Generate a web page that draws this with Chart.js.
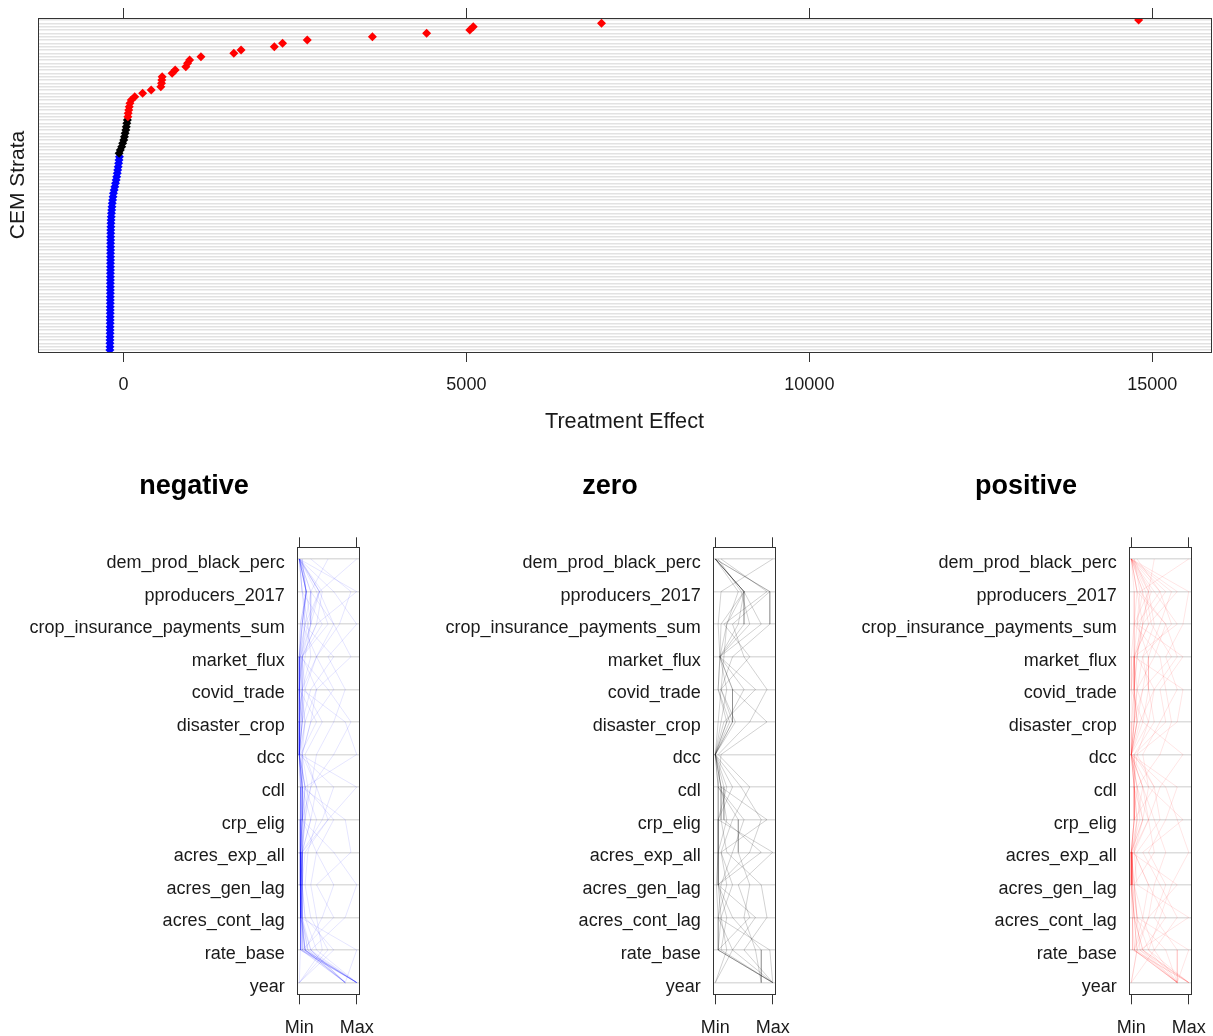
<!DOCTYPE html>
<html><head><meta charset="utf-8">
<script src="https://cdn.jsdelivr.net/npm/chart.js@4.4.1/dist/chart.umd.min.js"></script>
<style>
html,body{margin:0;padding:0;background:#fff;overflow:hidden;width:1213px;height:1036px;}
canvas{position:absolute;display:block;}
</style></head><body>
<canvas id="topChart" width="1213" height="440" style="left:0px;top:0px"></canvas>
<canvas id="panel0" width="352" height="596" style="left:29px;top:440px"></canvas>
<canvas id="panel1" width="352" height="596" style="left:445px;top:440px"></canvas>
<canvas id="panel2" width="352" height="596" style="left:861px;top:440px"></canvas>
<script>
// ---------- data ----------
const positiveEffects = [14800, 6970, 5100, 5050, 4420, 3630, 2680, 2320, 2200, 1715, 1610, 1130, 965, 935, 910, 755, 710, 565, 560, 555, 545, 405, 280, 165, 115, 95, 85, 78, 70, 65];
const zeroEffects = [58, 50, 42, 35, 25, 15, 5, -10, -25, -45, -62];
const negativeEffects = [-58, -64, -70, -76, -83, -90, -98, -106, -115, -125, -135, -145, -152, -158, -163, -167, -171, -174, -177, -180,
  -182, -183, -184, -184, -185, -185, -186, -186, -186, -187, -187, -187, -188, -188, -188, -189, -189, -189, -190, -190, -190, -190,
  -191, -191, -191, -192, -192, -192, -193, -193, -193, -194, -194, -194, -195, -195, -196, -196, -197];
const effectTicks = [0, 5000, 10000, 15000];

const variables = ["dem_prod_black_perc", "pproducers_2017", "crop_insurance_payments_sum", "market_flux", "covid_trade", "disaster_crop", "dcc", "cdl", "crp_elig", "acres_exp_all", "acres_gen_lag", "acres_cont_lag", "rate_base", "year"];
const profileTicks = [0, 1];
const profileTickLabels = ["Min", "Max"];
const panelTitles = ["negative", "zero", "positive"];

const negativeProfiles = [
  [0, 0.12, 0.05, 0, 0, 0, 0, 0.03, 0.02, 0.02, 0.02, 0.03, 0.1, 1],
  [0, 0.35, 0.1, 0.02, 0, 0.05, 0, 0.05, 0.04, 0.03, 0.03, 0.04, 0.15, 0.8],
  [0.02, 0.12, 0.2, 0.1, 0.05, 0.1, 0.02, 0.1, 0.08, 0.05, 0.04, 0.05, 0.2, 1],
  [0, 1, 0.3, 0.05, 0, 0.02, 0, 0.02, 0.05, 0.02, 0.02, 0.02, 0.05, 0.8],
  [0, 0.12, 0.02, 0, 0, 0, 0, 0.02, 0.01, 0.01, 0.01, 0.02, 0.02, 0],
  [0.5, 0.2, 0.6, 0.3, 0.1, 0.4, 0.1, 0.3, 0.5, 0.1, 0.05, 0.1, 0.3, 1],
  [0, 0.35, 0.15, 0.2, 0.05, 0.05, 0, 0.05, 0.2, 0.05, 0.03, 0.03, 0.1, 0.8],
  [0, 0.05, 0.4, 0.05, 0.3, 0.2, 0.05, 0.15, 0.1, 0.02, 0.02, 0.02, 0.02, 1],
  [0.05, 0.12, 0.08, 0.6, 0.2, 0.05, 0, 0.1, 0.3, 0.15, 0.1, 0.2, 0.5, 0],
  [0, 0.6, 1, 0.5, 0.8, 0.6, 0.3, 0.2, 0.1, 0.05, 0.05, 0.05, 0.15, 1],
  [0, 0.12, 0.05, 0, 0, 0.02, 0, 0.6, 0.4, 0.05, 0.03, 0.05, 0.1, 0.8],
  [1, 0.35, 0.2, 0.05, 0, 0, 0, 0.05, 0.05, 0.3, 0.6, 0.4, 0.1, 1],
  [0, 0.12, 0.05, 0.02, 0.5, 0.9, 0.6, 0.2, 0.05, 0.02, 0.02, 0.02, 0.2, 0.8],
  [0, 0.2, 0.1, 0, 0, 0, 0, 0.05, 0.8, 0.9, 0.3, 0.6, 0.05, 1],
  [0.02, 0.35, 0.6, 0.9, 0.3, 0.1, 0.05, 0.05, 0.1, 0.05, 0.05, 0.1, 0.6, 0],
  [0, 0.12, 0.02, 0, 0.05, 0, 0, 0.02, 0.02, 0.02, 0.02, 0.02, 0.03, 0.8],
  [0, 0.05, 0.15, 0.02, 0, 0.3, 0.02, 1, 0.5, 0.05, 0.04, 0.05, 0.1, 1],
  [0, 0.4, 0.3, 0.05, 0.02, 0.1, 0, 0.05, 0.05, 0.6, 1, 0.8, 0.2, 0.8],
  [0.2, 0.9, 0.7, 0.3, 0.6, 0.2, 0.05, 0.3, 0.2, 0.05, 0.05, 0.05, 0.05, 1],
  [0, 0.12, 0.05, 0, 0, 0.05, 0, 0.05, 0.05, 0.02, 0.05, 0.02, 1, 0.8],
  [0, 0.05, 0.1, 0.05, 0.05, 0, 0, 0.1, 0.05, 0.02, 0.02, 0.02, 0.02, 1],
  [0, 0.3, 0.5, 0.05, 0.1, 0.05, 0, 0.1, 0.6, 0.3, 0.2, 0.3, 0.4, 0],
  [0.05, 0.12, 0.05, 0.3, 0.05, 0.8, 1, 0.1, 0.05, 0.05, 0.02, 0.03, 0.1, 0.8],
  [0, 0.2, 0.2, 0.02, 0, 0, 0, 0.02, 0.02, 0.02, 0.02, 0.02, 0.08, 1]
];
const zeroProfiles = [
  [0, 0.5, 0.2, 0.08, 0.3, 0.3, 0, 0.1, 0.2, 0.05, 0.05, 0.2, 0.1, 1],
  [0, 0.5, 0.4, 0.08, 0.05, 0.2, 0, 0.05, 0.5, 0.3, 0.1, 0.05, 0.3, 1],
  [0, 0.95, 0.95, 0.3, 0.1, 0.35, 0, 0.2, 0.05, 1, 0.4, 0.6, 0.05, 1],
  [0, 0.5, 0.1, 0.08, 0.5, 0.2, 0, 0.45, 0.8, 0.6, 0.05, 0.3, 0.8, 0.8],
  [0.05, 0.45, 0.6, 0.08, 0.2, 0.1, 0, 0.1, 0.1, 0.2, 0.8, 0.9, 0.5, 1],
  [0, 0.95, 0.3, 0.5, 0.9, 0.6, 0.05, 0.6, 0.3, 0.1, 0.3, 0.1, 0.2, 0],
  [1, 0.1, 0.05, 0.08, 0.05, 0.25, 0, 0.05, 0.05, 0.05, 0.02, 0.05, 0.95, 1],
  [0, 0.5, 0.8, 0.08, 0.3, 0.9, 0.1, 0.05, 0.4, 0.4, 0.6, 0.5, 0.7, 0.8],
  [0, 0.4, 0.2, 0.15, 0.1, 0.3, 0, 0.3, 0.05, 0.05, 0.05, 0.1, 0.05, 1],
  [0, 0.5, 0.5, 0.08, 0.7, 0.15, 0, 0.1, 0.9, 0.1, 0.2, 0.05, 0.05, 1],
  [0.1, 0.9, 0.15, 0.6, 0.1, 0.05, 0, 0.15, 0.15, 0.8, 0.05, 0.7, 0.3, 0]
];
const positiveProfiles = [
  [0, 0.1, 0.05, 0, 0, 0.02, 0, 0.05, 0.05, 0, 0, 0.02, 0.05, 0.8],
  [0, 0.3, 0.2, 0.1, 0.05, 0.1, 0, 0.1, 0.2, 0, 0, 0.05, 0.2, 1],
  [0, 0.7, 0.5, 0.3, 0.2, 0.05, 0, 0.05, 0.1, 0.02, 0.02, 0.1, 0.15, 0.8],
  [0.05, 0.15, 0.6, 0.8, 0.4, 0.3, 0.1, 0.4, 0.5, 0.1, 0.05, 0.2, 0.4, 0.8],
  [0, 0.5, 0.1, 0.05, 0.05, 0.1, 0, 0.2, 0.4, 0.6, 0.4, 0.3, 0.1, 0],
  [0, 1, 0.9, 0.6, 0.8, 0.5, 0.2, 0.3, 0.2, 0, 0.05, 0.1, 0.05, 1],
  [0, 0.2, 0.3, 0.05, 0, 0.2, 0, 0.6, 0.8, 1, 0.7, 0.5, 0.3, 0.8],
  [0.4, 0.3, 0.4, 0.2, 0.1, 0.05, 0, 0.05, 0.05, 0, 0.02, 0.05, 0.6, 0.8],
  [0, 0.05, 0.05, 0.5, 0.6, 0.7, 0.5, 0.1, 0.05, 0, 0, 0.02, 0.02, 1],
  [0, 0.4, 0.8, 0.05, 0.05, 0.1, 0, 0.2, 0.3, 0.05, 0.3, 0.6, 0.2, 0.8],
  [1, 0.15, 0.1, 0.3, 0.3, 0.4, 0.05, 0.05, 0.1, 0, 0, 0.05, 0.1, 0],
  [0, 0.6, 0.2, 0.1, 0.05, 0, 0, 0.8, 0.6, 0.3, 0.6, 0.4, 0.8, 0.8],
  [0, 0.25, 0.35, 0.7, 0.2, 0.1, 0, 0.1, 0.15, 0, 0.05, 0.1, 0.3, 1],
  [0.05, 0.3, 0.05, 0.05, 0.9, 0.8, 0.1, 0.05, 0.2, 0.05, 0.3, 0.2, 0.05, 0.8],
  [0, 0.1, 0.6, 0.4, 0.1, 0.05, 0, 0.3, 0.9, 0.2, 0.5, 0.8, 0.4, 0],
  [0, 0.8, 0.3, 0.05, 0.1, 0.3, 0, 0.1, 0.3, 0.02, 0.02, 0.05, 0.1, 0.8],
  [0, 0.2, 0.1, 0.9, 0.5, 0.6, 0.05, 0.4, 0.05, 0, 0, 0.05, 0.2, 1],
  [0.1, 0.5, 0.7, 0.2, 0.3, 0.2, 0.9, 0.5, 0.3, 0.4, 0.05, 0.1, 1, 0.8],
  [0, 0.1, 0.2, 0.05, 0.05, 0.05, 0, 0.05, 0.05, 0, 0.8, 0.3, 0.05, 0.8],
  [0, 0.35, 0.15, 0.1, 0.4, 0.15, 0, 0.2, 0.1, 0.05, 0.1, 1, 0.15, 1]
];

// ---------- styling ----------
const FONT = '"Liberation Sans", Arial, sans-serif';
const TEXT = '#1a1a1a';

const boxPlugin = {
  id: 'box',
  afterDraw(chart) {
    const { ctx, chartArea: a } = chart;
    ctx.save();
    ctx.strokeStyle = '#333';
    ctx.lineWidth = 1;
    ctx.strokeRect(Math.round(a.left) + 0.5, Math.round(a.top) + 0.5, Math.round(a.right - a.left), Math.round(a.bottom - a.top));
    ctx.restore();
  }
};
const noPadH = s => { s.paddingLeft = 0; s.paddingRight = 0; };
const noPadV = s => { s.paddingTop = 0; s.paddingBottom = 0; };

// ---------- top chart ----------
const nPos = positiveEffects.length, nZero = zeroEffects.length, nNeg = negativeEffects.length;
const nRows = nPos + nZero + nNeg;
const posPts = positiveEffects.map((v, i) => ({ x: v, y: i }));
const zeroPts = zeroEffects.map((v, i) => ({ x: v, y: nPos + i }));
const negPts = negativeEffects.map((v, i) => ({ x: v, y: nPos + nZero + i }));

const ptStyle = (col) => ({ pointStyle: 'rectRot', pointRadius: 4.5, pointHoverRadius: 4.5, backgroundColor: col, borderColor: col, borderWidth: 0, showLine: false });

const xRange = { min: -1245, max: 15855 };
new Chart(document.getElementById('topChart'), {
  type: 'scatter',
  data: {
    datasets: [
      Object.assign({ data: posPts }, ptStyle('#ff0000')),
      Object.assign({ data: zeroPts }, ptStyle('#000000')),
      Object.assign({ data: negPts }, ptStyle('#0000ff'))
    ]
  },
  options: {
    responsive: false, animation: false, devicePixelRatio: 1,
    layout: { autoPadding: false, padding: { left: 0, right: 2, top: 0, bottom: 0 } },
    plugins: { legend: { display: false }, tooltip: { enabled: false } },
    scales: {
      x: {
        type: 'linear', position: 'bottom', min: xRange.min, max: xRange.max,
        afterBuildTicks: s => { s.ticks = effectTicks.map(v => ({ value: v })); },
        ticks: { font: { family: FONT, size: 18 }, color: TEXT, padding: 12, maxRotation: 0, autoSkip: false, callback: v => String(v) },
        grid: { drawOnChartArea: false, drawTicks: true, tickLength: 10, tickColor: '#333', tickWidth: 1 },
        border: { display: false },
        title: { display: true, text: 'Treatment Effect', font: { family: FONT, size: 21.7 }, color: TEXT, padding: { top: 0, bottom: 5.4 } },
        afterFit: s => { s.height = 88; noPadH(s); }
      },
      x2: {
        type: 'linear', position: 'top', min: xRange.min, max: xRange.max,
        afterBuildTicks: s => { s.ticks = effectTicks.map(v => ({ value: v })); },
        ticks: { display: false },
        grid: { drawOnChartArea: false, drawTicks: true, tickLength: 10, tickColor: '#333', tickWidth: 1 },
        border: { display: false },
        afterFit: s => { s.height = 18; noPadH(s); }
      },
      y: {
        type: 'linear', reverse: true, min: -0.6, max: nRows - 1 + 0.6,
        afterBuildTicks: s => { s.ticks = Array.from({ length: nRows }, (_, i) => ({ value: i })); },
        ticks: { display: false },
        grid: { color: '#e2e2e2', lineWidth: 1.5, drawTicks: false },
        border: { display: false },
        title: { display: true, text: 'CEM Strata', font: { family: FONT, size: 21 }, color: TEXT, padding: { top: 5.4, bottom: 0 } },
        afterFit: s => { s.width = 38; noPadV(s); }
      }
    }
  },
  plugins: [boxPlugin]
});

// ---------- parallel coordinate panels ----------
function makePanel(id, profiles, color, title) {
  const datasets = profiles.map(p => ({
    data: p.map((v, i) => ({ x: v, y: i })),
    borderColor: color, borderWidth: 1, pointRadius: 0, pointHoverRadius: 0, showLine: true, fill: false, tension: 0
  }));
  const pxMin = -0.0453, pxMax = 1.04;
  new Chart(document.getElementById(id), {
    type: 'scatter',
    data: { datasets },
    options: {
      responsive: false, animation: false, devicePixelRatio: 1,
      layout: { autoPadding: false, padding: { left: 0, right: 22, top: 0, bottom: 0 } },
      plugins: {
        legend: { display: false }, tooltip: { enabled: false },
        title: { display: true, text: title, font: { family: FONT, size: 27, weight: 'bold' }, color: '#000', padding: { top: 30.8, bottom: 0 } }
      },
      scales: {
        x: {
          type: 'linear', position: 'bottom', min: pxMin, max: pxMax,
          afterBuildTicks: s => { s.ticks = profileTicks.map(v => ({ value: v })); },
          ticks: { font: { family: FONT, size: 18 }, color: TEXT, padding: 13, maxRotation: 0, autoSkip: false,
                   callback: (v) => profileTickLabels[profileTicks.indexOf(v)] },
          grid: { drawOnChartArea: false, drawTicks: true, tickLength: 10, tickColor: '#333', tickWidth: 1 },
          border: { display: false },
          afterFit: s => { s.height = 41.7; noPadH(s); }
        },
        x2: {
          type: 'linear', position: 'top', min: pxMin, max: pxMax,
          afterBuildTicks: s => { s.ticks = profileTicks.map(v => ({ value: v })); },
          ticks: { display: false },
          grid: { drawOnChartArea: false, drawTicks: true, tickLength: 10, tickColor: '#333', tickWidth: 1 },
          border: { display: false },
          afterFit: s => { s.height = 44.1; noPadH(s); }
        },
        y: {
          type: 'linear', reverse: true, min: -0.36, max: variables.length - 1 + 0.36,
          afterBuildTicks: s => { s.ticks = variables.map((_, i) => ({ value: i })); },
          ticks: { font: { family: FONT, size: 18 }, color: TEXT, padding: 12, labelOffset: 4, autoSkip: false, callback: v => variables[v] },
          grid: { color: '#dddddd', lineWidth: 1.5, drawTicks: false },
          border: { display: false },
          afterFit: s => { s.width = 267.7; noPadV(s); }
        }
      }
    },
    plugins: [boxPlugin]
  });
}
makePanel('panel0', negativeProfiles, 'rgba(0,0,255,0.1)', panelTitles[0]);
makePanel('panel1', zeroProfiles, 'rgba(0,0,0,0.18)', panelTitles[1]);
makePanel('panel2', positiveProfiles, 'rgba(255,0,0,0.1)', panelTitles[2]);
</script>
</body></html>
